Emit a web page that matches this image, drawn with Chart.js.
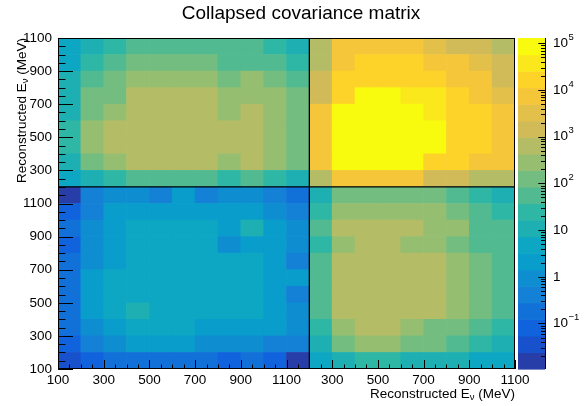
<!DOCTYPE html>
<html>
<head>
<meta charset="utf-8">
<script src="https://cdn.jsdelivr.net/npm/chart.js@4.4.0/dist/chart.umd.min.js"></script>
<style>
  html, body { margin: 0; padding: 0; background: #fff; }
</style>
</head>
<body>
<canvas id="chart" width="585" height="406"></canvas>
<script>
// bin edges (MeV) of the two collapsed samples, A then B
const edgesA = [100, 200, 300, 400, 500, 600, 700, 800, 900, 1000, 1100, 1200];
const edgesB = [200, 300, 400, 500, 600, 700, 800, 900, 1000, 1100];

// labels at every second bin edge (same on both axes)
const axisTickLabels = ['100', '300', '500', '700', '900', '1100', '300', '500', '700', '900', '1100'];

// colour axis
const zMin = 0.0106, zMax = 1.3e5;
const zMajorTicks = [0.1, 1, 10, 100, 1000, 10000, 100000];
const zTickBase = ['10', '1', '10', '10', '10', '10', '10'];
const zTickExp = ['\u22121', '', '', '2', '3', '4', '5'];

// covariance blocks, rows = y bin (low -> high), columns = x bin (low -> high)
const blockAA = [
  [0.035, 0.08, 0.18, 0.2, 0.19, 0.17, 0.18, 0.075, 0.17, 0.078, 0.016],
  [0.08, 0.42, 0.9, 2.0, 2.2, 1.9, 0.95, 0.88, 0.92, 0.4, 0.38],
  [0.18, 0.9, 2.1, 4.6, 4.9, 4.7, 2.2, 1.9, 2.0, 2.1, 0.85],
  [0.2, 2.0, 4.6, 11, 5.0, 4.8, 4.5, 4.6, 4.9, 2.0, 0.9],
  [0.19, 2.2, 4.9, 5.0, 5.2, 4.9, 4.8, 4.7, 5.0, 2.1, 0.42],
  [0.17, 1.9, 4.7, 4.8, 4.9, 5.3, 5.0, 4.8, 4.9, 2.0, 2.0],
  [0.18, 0.95, 2.2, 4.5, 4.8, 5.0, 5.4, 4.9, 5.1, 1.9, 0.4],
  [0.075, 0.88, 1.9, 4.6, 4.7, 4.8, 4.9, 0.95, 2.2, 2.0, 0.9],
  [0.17, 0.92, 2.0, 4.9, 5.0, 4.9, 5.1, 2.2, 11.5, 2.1, 0.88],
  [0.078, 0.4, 2.1, 2.0, 2.1, 2.0, 1.9, 2.0, 2.1, 0.9, 0.4],
  [0.016, 0.38, 0.85, 0.9, 0.42, 2.0, 0.4, 0.9, 0.88, 0.4, 0.18]
];

const blockBB = [
  [640, 7200, 7600, 7400, 7000, 1450, 1380, 620, 600],
  [7200, 86000, 88000, 84000, 80000, 16800, 16000, 7300, 7100],
  [7600, 88000, 92000, 90000, 86000, 78000, 17200, 16500, 7500],
  [7400, 84000, 90000, 94000, 88000, 80000, 17000, 16300, 7400],
  [7000, 80000, 86000, 88000, 84000, 38000, 16900, 16100, 7200],
  [1450, 16800, 78000, 80000, 38000, 40000, 17000, 7400, 3300],
  [1380, 16000, 17200, 17000, 16900, 17000, 7500, 7200, 1400],
  [620, 7300, 16500, 16300, 16100, 7400, 7200, 3300, 1450],
  [600, 7100, 7500, 7400, 7200, 3300, 1400, 1450, 640]
];

// rows = B bin, columns = A bin (the other corner is its transpose)
const blockBA = [
  [4.8, 11, 25, 56, 58, 57, 55, 24, 54, 23, 10.5],
  [11, 125, 285, 640, 660, 650, 630, 280, 620, 270, 120],
  [25, 290, 660, 700, 720, 710, 690, 640, 680, 290, 128],
  [24, 285, 650, 690, 710, 700, 680, 630, 670, 285, 125],
  [11.5, 128, 300, 650, 670, 660, 640, 290, 620, 280, 122],
  [11, 122, 135, 600, 620, 610, 600, 280, 300, 270, 118],
  [10.5, 56, 130, 290, 300, 295, 285, 125, 290, 120, 55],
  [4.9, 25, 58, 130, 135, 132, 128, 56, 60, 55, 24],
  [4.6, 11, 24, 55, 57, 56, 54, 52, 55, 25, 11]
];

const nA = edgesA.length - 1;
const nB = edgesB.length - 1;
const nBins = nA + nB;
const nLevels = 20;
const logMin = Math.log10(zMin);
const dLog = (Math.log10(zMax) - logMin) / nLevels;
const fontFamily = "'Liberation Sans', Arial, Helvetica, sans-serif";

function cellValue(ix, iy) {
  if (ix < nA && iy < nA) return blockAA[iy][ix];
  if (ix >= nA && iy >= nA) return blockBB[iy - nA][ix - nA];
  if (ix < nA) return blockBA[iy - nA][ix];
  return blockBA[ix - nA][iy];
}

// ROOT kBird palette
const birdStops = [0.0, 0.125, 0.25, 0.375, 0.5, 0.625, 0.75, 0.875, 1.0];
const birdR = [0.2082, 0.0592, 0.0780, 0.0232, 0.1802, 0.5301, 0.8186, 0.9956, 0.9764];
const birdG = [0.1664, 0.3599, 0.5041, 0.6419, 0.7178, 0.7492, 0.7328, 0.7862, 0.9832];
const birdB = [0.5293, 0.8684, 0.8385, 0.7914, 0.6425, 0.4662, 0.3499, 0.1968, 0.0539];

function birdColor(t) {
  let k = 0;
  while (k < birdStops.length - 2 && t > birdStops[k + 1]) k++;
  const f = (t - birdStops[k]) / (birdStops[k + 1] - birdStops[k]);
  const c = arr => Math.round(255 * (arr[k] + (arr[k + 1] - arr[k]) * f));
  return 'rgb(' + c(birdR) + ',' + c(birdG) + ',' + c(birdB) + ')';
}

function levelColor(level) {
  const idx = Math.floor((level + 0.99) * 255 / nLevels);
  return birdColor(idx / 254);
}

function valueColor(v) {
  let level = Math.floor((Math.log10(v) - logMin) / dLog);
  level = Math.max(0, Math.min(nLevels - 1, level));
  return levelColor(level);
}

const binNames = [];
for (let i = 0; i < nA; i++) binNames.push('A ' + edgesA[i] + '-' + edgesA[i + 1]);
for (let i = 0; i < nB; i++) binNames.push('B ' + edgesB[i] + '-' + edgesB[i + 1]);

// one dataset per row of cells, floating bars [iy, iy + 1]
const datasets = [];
for (let iy = 0; iy < nBins; iy++) {
  const data = [], colors = [];
  for (let ix = 0; ix < nBins; ix++) {
    data.push([iy, iy + 1]);
    colors.push(valueColor(cellValue(ix, iy)));
  }
  datasets.push({
    data: data,
    backgroundColor: colors,
    borderWidth: 0,
    grouped: false,
    barPercentage: 1,
    categoryPercentage: 1
  });
}

const rootStyle = {
  id: 'rootStyle',
  afterDraw(chart) {
    const ctx = chart.ctx;
    const a = chart.chartArea;
    const xs = chart.scales.x2, ys = chart.scales.y, z = chart.scales.z;
    ctx.save();

    // ticks inside the frame, major every 2 bins, minor every half bin
    ctx.strokeStyle = '#000';
    ctx.lineWidth = 1;
    for (let k = 0; k <= nBins * 2; k++) {
      const major = k % 4 === 0;
      const x = Math.round(xs.getPixelForValue(k / 2)) + 0.5;
      const y = Math.round(ys.getPixelForValue(k / 2)) + 0.5;
      ctx.beginPath();
      ctx.moveTo(x, a.bottom);
      ctx.lineTo(x, a.bottom - (major ? 9 : 4.5));
      ctx.moveTo(a.left, y);
      ctx.lineTo(a.left + (major ? 15 : 7.5), y);
      ctx.stroke();
    }
    // block dividers
    ctx.lineWidth = 1.3;
    ctx.beginPath();
    const xd = xs.getPixelForValue(nA), yd = ys.getPixelForValue(nA);
    ctx.moveTo(xd, a.top); ctx.lineTo(xd, a.bottom);
    ctx.moveTo(a.left, yd); ctx.lineTo(a.right, yd);
    ctx.stroke();
    // frame
    ctx.lineWidth = 1;
    ctx.strokeRect(a.left + 0.5, a.top + 0.5, a.right - a.left - 1, a.bottom - a.top - 1);

    // colour bar
    const cbLeft = a.right + 3, cbRight = a.right + 30;
    for (let L = 0; L < nLevels; L++) {
      const lo = Math.pow(10, logMin + L * dLog);
      const hi = Math.pow(10, logMin + (L + 1) * dLog);
      const yTop = z.getPixelForValue(hi), yBot = z.getPixelForValue(lo);
      ctx.fillStyle = levelColor(L);
      ctx.fillRect(cbLeft, yTop, cbRight - cbLeft, yBot - yTop + 0.6);
    }
    ctx.beginPath();
    ctx.moveTo(cbRight + 0.5, a.top);
    ctx.lineTo(cbRight + 0.5, a.bottom);
    for (let e = -2; e <= 5; e++) {
      for (let m = 1; m <= 9; m++) {
        const v = m * Math.pow(10, e);
        if (v < zMin || v > zMax) continue;
        const y = Math.round(z.getPixelForValue(v)) + 0.5;
        ctx.moveTo(cbRight, y);
        ctx.lineTo(cbRight - (m === 1 ? 6.7 : 4), y);
      }
    }
    ctx.stroke();
    ctx.fillStyle = '#000';
    ctx.textBaseline = 'middle';
    ctx.textAlign = 'left';
    zMajorTicks.forEach((v, i) => {
      const y = z.getPixelForValue(v);
      const x0 = cbRight + 8;
      ctx.font = '13.5px ' + fontFamily;
      ctx.fillText(zTickBase[i], x0, y);
      if (zTickExp[i]) {
        const w = ctx.measureText(zTickBase[i]).width;
        ctx.font = '9.5px ' + fontFamily;
        ctx.fillText(zTickExp[i], x0 + w + 0.5, y - 6);
      }
    });

    // title
    ctx.textBaseline = 'alphabetic';
    ctx.textAlign = 'center';
    ctx.font = '19px ' + fontFamily;
    ctx.fillText('Collapsed covariance matrix', 301, 18.6);

    // axis titles with subscript nu
    const drawAxisTitle = (xEnd, yBase) => {
      ctx.textAlign = 'left';
      ctx.font = '13.5px ' + fontFamily;
      const p1 = 'Reconstructed E', p3 = ' (MeV)';
      const w1 = ctx.measureText(p1).width, w3 = ctx.measureText(p3).width;
      ctx.font = '9.5px ' + fontFamily;
      const w2 = ctx.measureText('\u03bd').width;
      const x = xEnd - (w1 + w2 + w3);
      ctx.font = '13.5px ' + fontFamily;
      ctx.fillText(p1, x, yBase);
      ctx.font = '9.5px ' + fontFamily;
      ctx.fillText('\u03bd', x + w1, yBase + 2);
      ctx.font = '13.5px ' + fontFamily;
      ctx.fillText(p3, x + w1 + w2, yBase);
    };
    drawAxisTitle(a.right, 398);
    ctx.translate(25.5, a.top);
    ctx.rotate(-Math.PI / 2);
    drawAxisTitle(0, 0);
    ctx.restore();
  }
};

const tickFont = { family: fontFamily, size: 13.5 };

new Chart(document.getElementById('chart').getContext('2d'), {
  type: 'bar',
  data: { labels: binNames, datasets: datasets },
  options: {
    responsive: false,
    animation: false,
    layout: { padding: { top: 38, right: 70, left: 0, bottom: 0 } },
    plugins: {
      legend: { display: false },
      tooltip: { enabled: false },
      title: { display: false }
    },
    scales: {
      x: { type: 'category', display: false, offset: true },
      x2: {
        type: 'linear', position: 'bottom', min: 0, max: nBins, offset: false,
        grid: { display: false, drawTicks: false },
        border: { display: false },
        ticks: {
          stepSize: 2, autoSkip: false, maxRotation: 0, padding: 3,
          color: '#000', font: tickFont,
          callback: v => axisTickLabels[v / 2]
        },
        afterFit: s => { s.height = 37; }
      },
      y: {
        type: 'linear', position: 'left', min: 0, max: nBins,
        grid: { display: false, drawTicks: false },
        border: { display: false },
        ticks: {
          stepSize: 2, autoSkip: false, padding: 6,
          color: '#000', font: tickFont,
          callback: v => axisTickLabels[v / 2]
        },
        afterFit: s => { s.width = 58; }
      },
      z: { type: 'logarithmic', display: false, position: 'right', min: zMin, max: zMax }
    }
  },
  plugins: [rootStyle]
});
</script>
</body>
</html>
